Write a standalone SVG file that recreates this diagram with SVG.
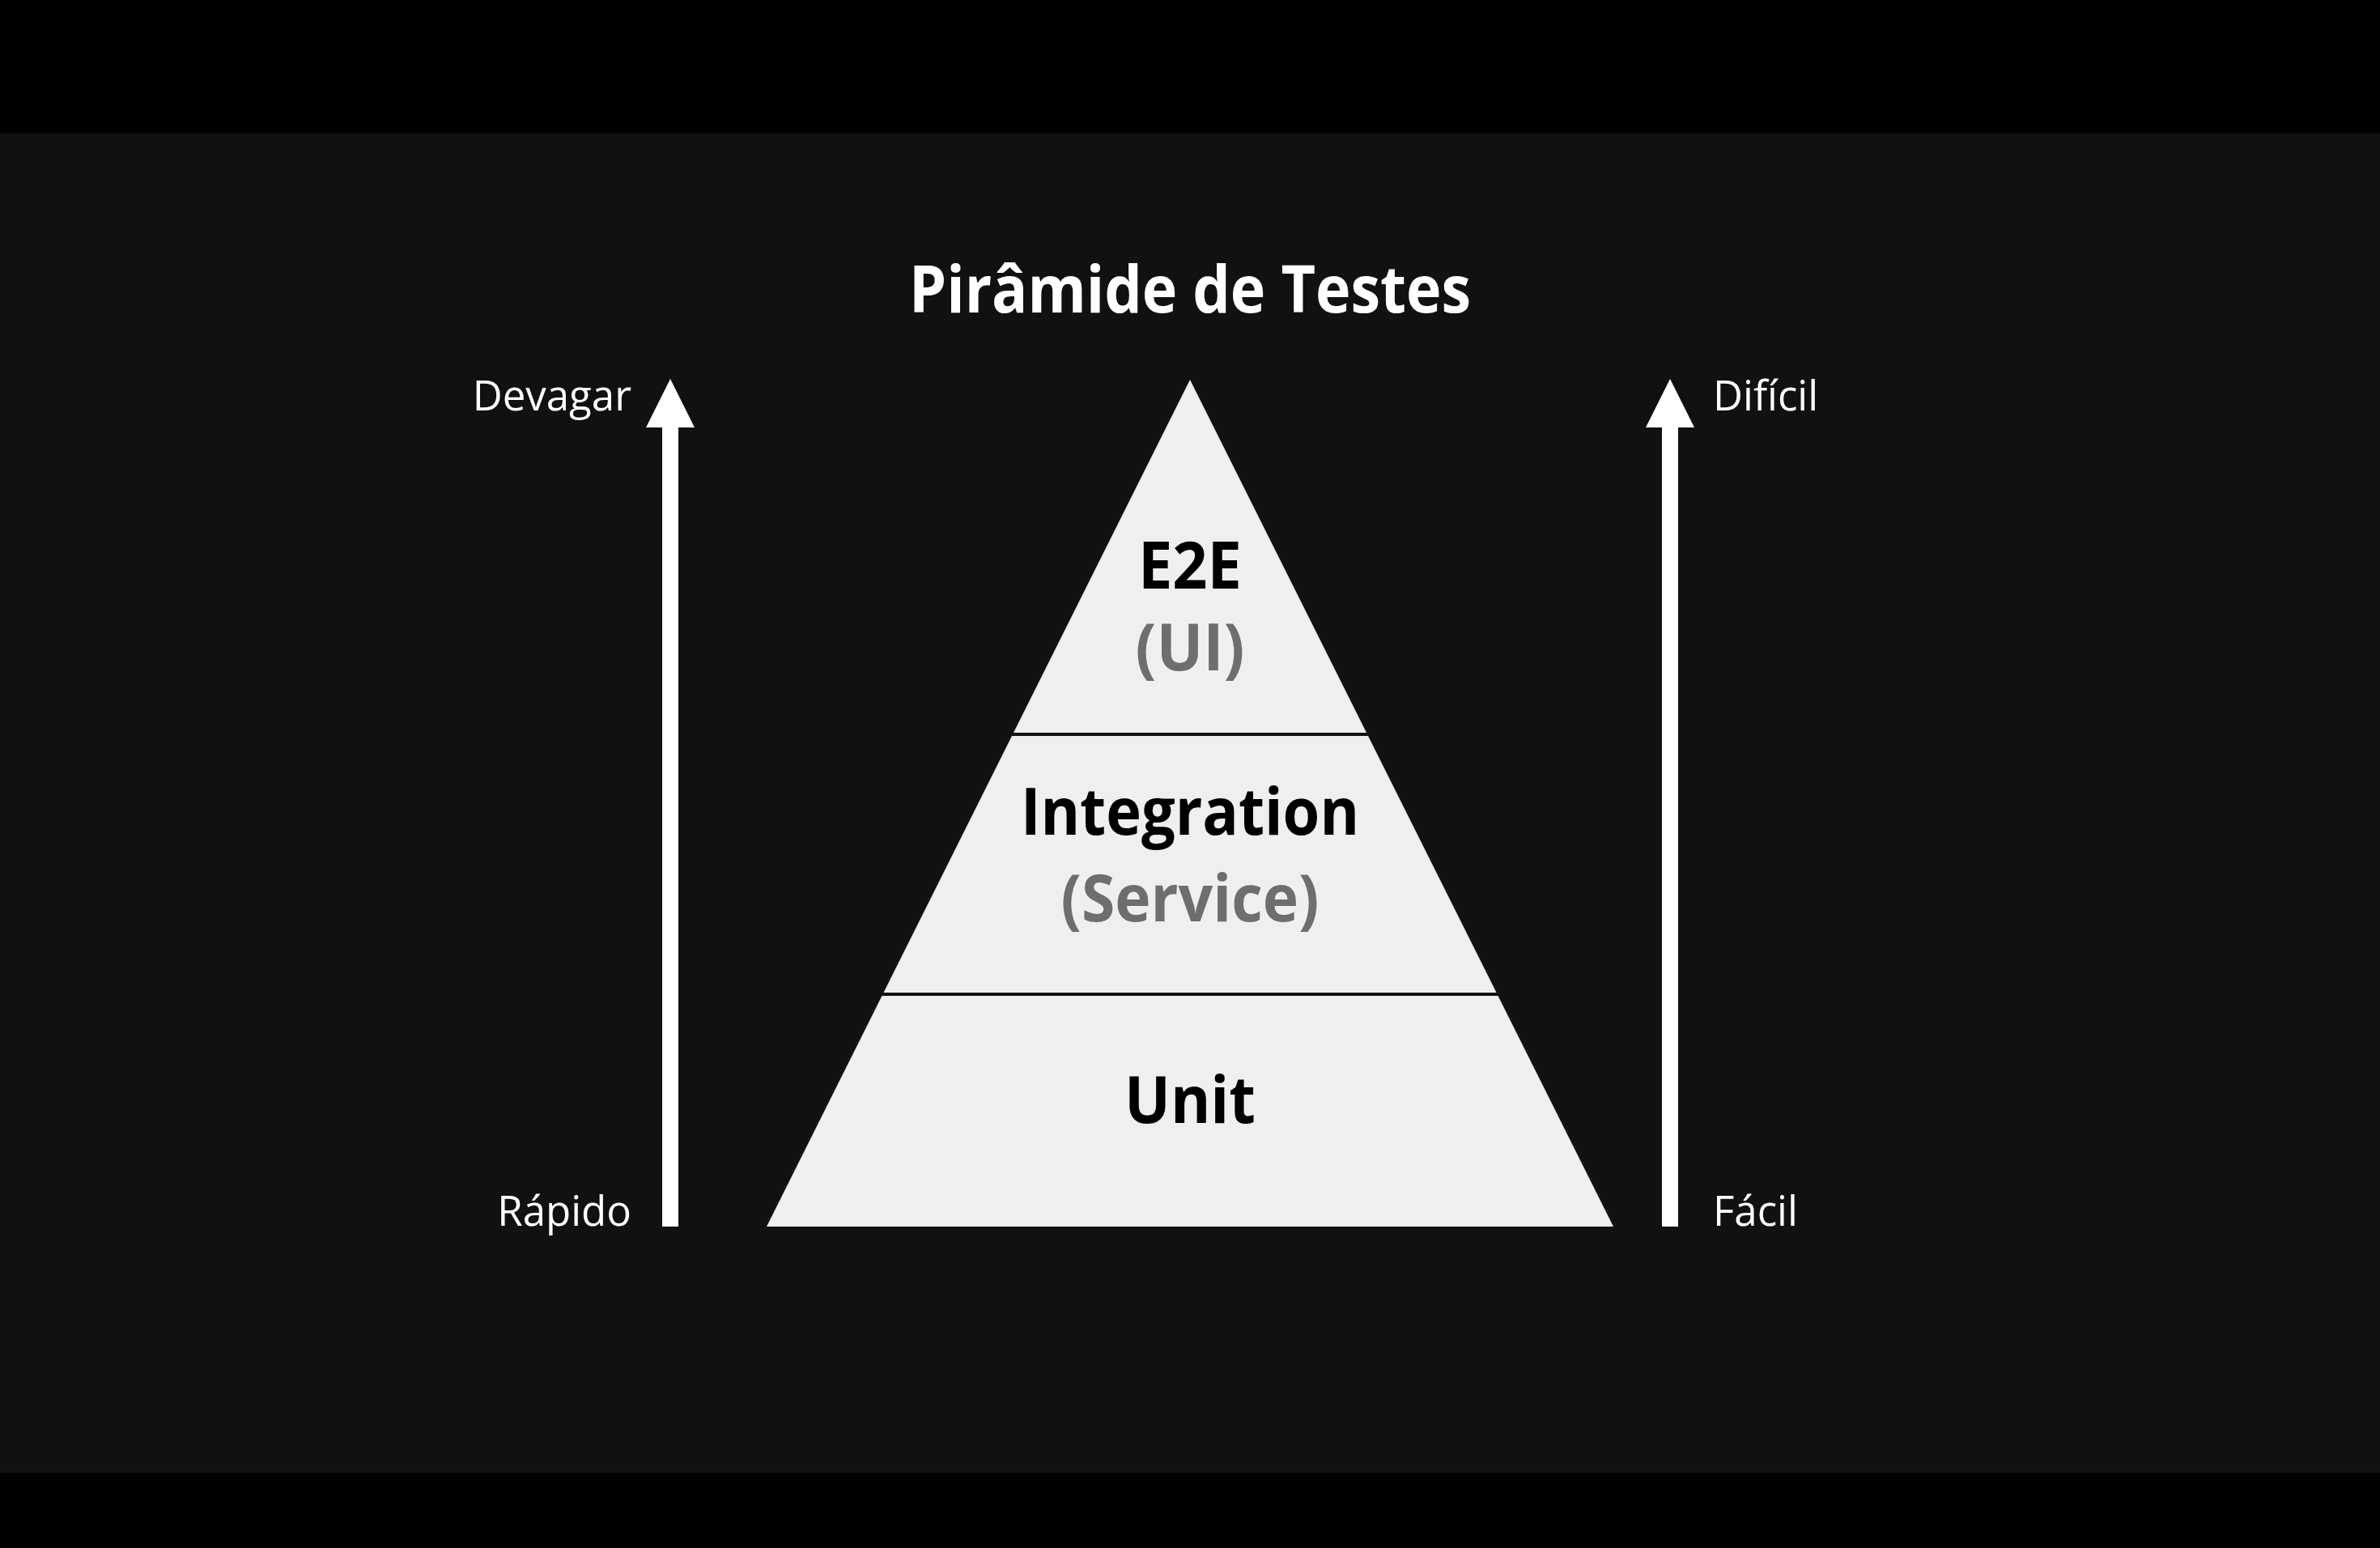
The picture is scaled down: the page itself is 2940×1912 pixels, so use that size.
<svg xmlns="http://www.w3.org/2000/svg" width="2940" height="1912" viewBox="0 0 2940 1912">
<style>
.lbl{font-family:"Open Sans","Liberation Sans",sans-serif;font-size:51px;fill:#ffffff}
.tier{font-family:"Open Sans","Liberation Sans",sans-serif;font-weight:700;font-size:80px;text-anchor:middle}
.main{fill:#000000}
.sub{fill:#6e6e6e}
.arrow{fill:#ffffff}
.sep{stroke:#111111;stroke-width:4}
</style>
<rect x="0" y="0" width="2940" height="1912" fill="#000000"/>
<rect x="0" y="165" width="2940" height="1654" fill="#111111"/>
<text x="1470" y="386" text-anchor="middle" font-family="'Open Sans','Liberation Sans',sans-serif" font-weight="700" font-size="80" fill="#ffffff" textLength="694" lengthAdjust="spacingAndGlyphs">Pirâmide de Testes</text>
<g id="pyramid">
<polygon points="1470,469 1993,1515 947,1515" fill="#efefef"/>
</g>
<g id="connectors">
<line class="sep" x1="1245" y1="907" x2="1695" y2="907"/>
<line class="sep" x1="1085" y1="1228" x2="1855" y2="1228"/>
</g>
<g id="tier-e2e">
<text class="tier main" x="1470" y="727" textLength="128" lengthAdjust="spacingAndGlyphs">E2E</text>
<text class="tier sub" x="1470" y="828" textLength="135" lengthAdjust="spacingAndGlyphs">(UI)</text>
</g>
<g id="tier-integration">
<text class="tier main" x="1470" y="1031" textLength="418" lengthAdjust="spacingAndGlyphs">Integration</text>
<text class="tier sub" x="1470" y="1138" textLength="319" lengthAdjust="spacingAndGlyphs">(Service)</text>
</g>
<g id="tier-unit">
<text class="tier main" x="1470" y="1387" textLength="162" lengthAdjust="spacingAndGlyphs">Unit</text>
</g>
<g id="arrow-left">
<rect class="arrow" x="818" y="525" width="20" height="990"/>
<polygon class="arrow" points="828,468 858,528 798,528"/>
<text class="lbl" x="780" y="507" text-anchor="end">Devagar</text>
<text class="lbl" x="780" y="1514" text-anchor="end">Rápido</text>
</g>
<g id="arrow-right">
<rect class="arrow" x="2053" y="525" width="20" height="990"/>
<polygon class="arrow" points="2063,468 2093,528 2033,528"/>
<text class="lbl" x="2116" y="507">Difícil</text>
<text class="lbl" x="2116" y="1514">Fácil</text>
</g>
</svg>
